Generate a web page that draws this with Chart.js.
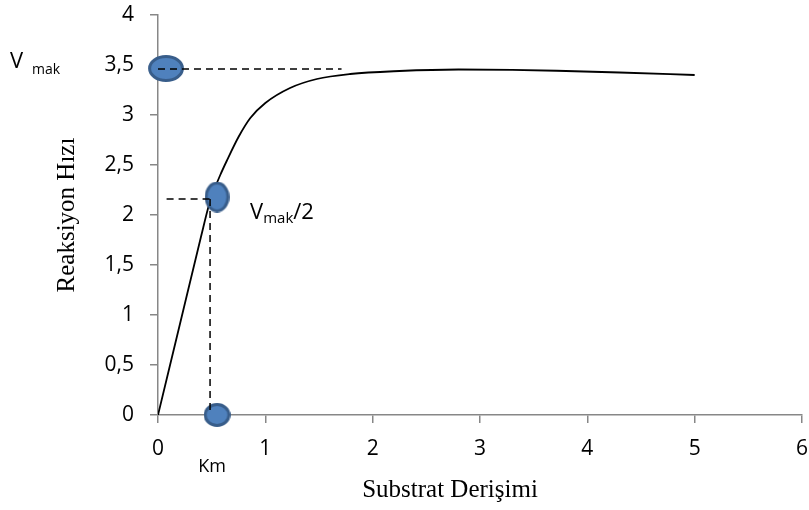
<!DOCTYPE html>
<html><head><meta charset="utf-8">
<script src="https://cdn.jsdelivr.net/npm/chart.js@4/dist/chart.umd.min.js"></script>
<style>html,body{margin:0;padding:0;background:#fff}</style>
</head><body>
<canvas id="c" width="809" height="510"></canvas>
<script>
// ---- data ----
const substrate = [0, 0.2, 0.4, 0.48, 0.53, 0.58, 0.64, 0.75, 0.86, 1.0, 1.23, 1.48, 1.79, 2.25, 2.8, 3.3, 3.8, 4.3, 5];
const rate      = [0, 0.89, 1.78, 2.12, 2.27, 2.40, 2.54, 2.78, 2.97, 3.12, 3.27, 3.36, 3.41, 3.44, 3.455, 3.452, 3.44, 3.425, 3.40];
const vmax = 3.46;
const vmaxLineX = [0, 1.71];
const halfV = 2.16;
const halfLineX = [0.08, 0.485];
const km = 0.485;
const kmLineY = [2.16, 0];
const markerX = [0.075, 0.55, 0.55];
const markerY = [3.465, 2.18, 0];
const xTickValues = [0, 1, 2, 3, 4, 5, 6];
const yTickValues = [0, 0.5, 1, 1.5, 2, 2.5, 3, 3.5, 4];
const xTitle = 'Substrat Derişimi';
const yTitle = 'Reaksiyon Hızı';

// ---- styles ----
const SANS = '"Open Sans", "Liberation Sans", sans-serif';
const SERIF = '"Liberation Serif", "Times New Roman", serif';
const markerSizes = [[36, 27], [25, 31], [27, 24]];

function makeEllipse(w, h) {
  const c = document.createElement('canvas');
  c.width = w; c.height = h;
  const g = c.getContext('2d');
  g.beginPath();
  g.ellipse(w / 2, h / 2, w / 2 - 1.6, h / 2 - 1.6, 0, 0, Math.PI * 2);
  g.fillStyle = '#4f81bd';
  g.fill();
  g.lineWidth = 3;
  g.strokeStyle = '#385d8a';
  g.stroke();
  return c;
}
const markerStyles = markerSizes.map(s => makeEllipse(s[0], s[1]));

const annot = {
  id: 'annot',
  afterDraw(chart) {
    const ctx = chart.ctx, xs = chart.scales.x, ys = chart.scales.y, ca = chart.chartArea;
    ctx.save();
    ctx.fillStyle = '#000';
    ctx.textBaseline = 'alphabetic';
    ctx.textAlign = 'left';
    // V mak
    const yv = ys.getPixelForValue(vmax);
    ctx.font = '22px ' + SANS;
    ctx.fillText('V', 10, yv - 1);
    ctx.font = '14px ' + SANS;
    ctx.fillText('mak', 32, yv + 5);
    // Vmak/2
    const yh = ys.getPixelForValue(halfV);
    let x = xs.getPixelForValue(km) + 40;
    ctx.font = '22px ' + SANS;
    ctx.fillText('V', x, yh + 20);
    x += ctx.measureText('V').width;
    ctx.font = '15px ' + SANS;
    ctx.fillText('mak', x, yh + 24);
    x += ctx.measureText('mak').width;
    ctx.font = '22px ' + SANS;
    ctx.fillText('/2', x, yh + 20);
    // Km
    ctx.textAlign = 'center';
    ctx.font = '18px ' + SANS;
    ctx.fillText('Km', xs.getPixelForValue(km) + 2, 472);
    // x axis title
    ctx.font = '25px ' + SERIF;
    ctx.textBaseline = 'middle';
    ctx.fillText(xTitle, (ca.left + ca.right) / 2 - 30, 490);
    ctx.restore();
  }
};

new Chart(document.getElementById('c'), {
  type: 'scatter',
  data: {
    datasets: [
      { data: vmaxLineX.map(v => ({x: v, y: vmax})), showLine: true, borderColor: '#000', borderWidth: 1.5, borderDash: [7, 5], pointRadius: 0 },
      { data: halfLineX.map(v => ({x: v, y: halfV})), showLine: true, borderColor: '#000', borderWidth: 1.5, borderDash: [7, 5], pointRadius: 0 },
      { data: kmLineY.map(v => ({x: km, y: v})), showLine: true, borderColor: '#000', borderWidth: 1.5, borderDash: [7, 5], pointRadius: 0 },
      { data: markerX.map((v, i) => ({x: v, y: markerY[i]})), showLine: false, pointStyle: markerStyles, pointRadius: 5, clip: false },
      { data: substrate.map((v, i) => ({x: v, y: rate[i]})), showLine: true, borderColor: '#000', borderWidth: 1.8, pointRadius: 0, cubicInterpolationMode: 'monotone' }
    ]
  },
  options: {
    responsive: false,
    devicePixelRatio: 1,
    animation: false,
    events: [],
    layout: { padding: { left: 0, right: 7, top: 15, bottom: 0 } },
    plugins: { legend: { display: false }, tooltip: { enabled: false } },
    scales: {
      x: {
        type: 'linear', min: 0, max: 6,
        afterBuildTicks: s => { s.ticks = xTickValues.map(v => ({value: v})); },
        afterFit: s => { s.height = 95; s.paddingLeft = 0; s.paddingRight = 0; },
        border: { color: '#878787', width: 1.5 },
        grid: { drawOnChartArea: false, drawTicks: true, tickLength: 8, color: '#878787', lineWidth: 1.5 },
        ticks: { color: '#000', font: { family: SANS, size: 21 }, padding: 13, maxRotation: 0, autoSkip: false,
                 callback: v => String(v) }
      },
      y: {
        type: 'linear', min: 0, max: 4,
        afterBuildTicks: s => { s.ticks = yTickValues.map(v => ({value: v})); },
        afterFit: s => { s.width = 158; s.paddingTop = 0; s.paddingBottom = 0; },
        border: { color: '#878787', width: 1.5 },
        grid: { drawOnChartArea: false, drawTicks: true, tickLength: 8, color: '#878787', lineWidth: 1.5 },
        ticks: { color: '#000', font: { family: SANS, size: 21 }, padding: 16, autoSkip: false,
                 callback: v => String(v).replace('.', ',') },
        title: { display: true, text: yTitle, color: '#000', font: { family: SERIF, size: 25 }, padding: { top: 52, bottom: 0 } }
      }
    }
  },
  plugins: [annot]
});
</script>
</body></html>
